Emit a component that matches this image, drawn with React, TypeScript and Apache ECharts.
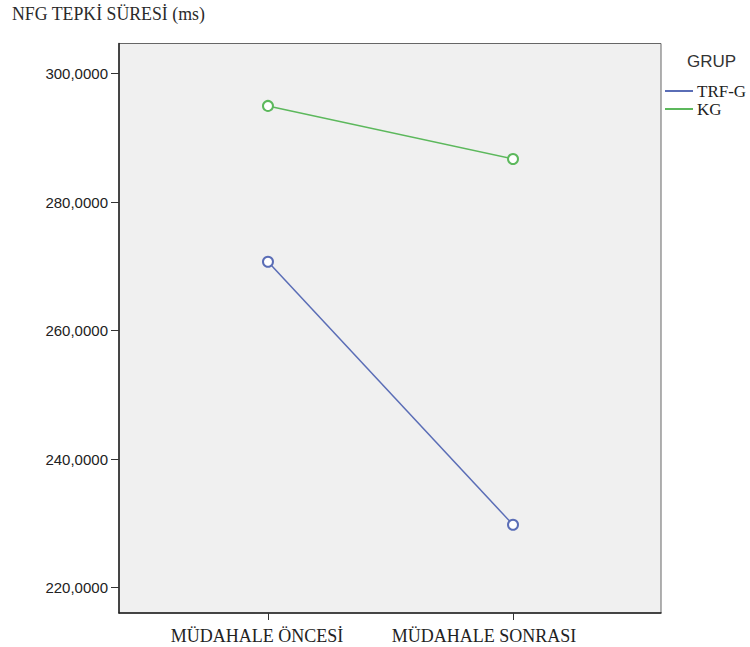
import React, { useEffect, useRef } from "react";
import * as echarts from "echarts";

const categories = ["MÜDAHALE ÖNCESİ", "MÜDAHALE SONRASI"];
const seriesNames = ["TRF-G", "KG"];
const trfG = [270.7, 229.8];
const kg = [294.95, 286.7];
const yTicks = [220, 240, 260, 280, 300];
const titleText = "NFG TEPKİ SÜRESİ (ms)";
const legendTitle = "GRUP";

export default function App() {
  const ref = useRef<HTMLDivElement>(null);
  useEffect(() => {
    const chart = echarts.init(ref.current!, null, { renderer: "svg" });
    const serif = "'Liberation Serif', 'Times New Roman', serif";
    const sans = "'Liberation Sans', Arial, sans-serif";
    const colors = ["#5a6db6", "#5cb85c"];
    const toData = (vals: number[]) => categories.map((_, i) => [i, vals[i]]);
    chart.setOption({
      animation: false,
      backgroundColor: "#ffffff",
      title: [
        {
          text: titleText,
          left: 12,
          top: 5,
          padding: 0,
          textStyle: { fontFamily: serif, fontSize: 17.8, fontWeight: "normal", color: "#2a2a2a" },
        },
        {
          text: legendTitle,
          left: 687,
          top: 53,
          padding: 0,
          textStyle: { fontFamily: sans, fontSize: 17, fontWeight: "normal", color: "#333" },
        },
      ],
      legend: {
        orient: "vertical",
        left: 665,
        top: 82,
        padding: 0,
        itemWidth: 28,
        itemHeight: 2,
        itemGap: 0,
        icon: "rect",
        data: seriesNames,
        textStyle: { fontFamily: serif, fontSize: 17, color: "#222", lineHeight: 18, padding: [0, 0, 0, -1] },
      },
      grid: {
        left: 119,
        right: 89,
        top: 43.5,
        bottom: 34,
        show: true,
        backgroundColor: "#f0f0f0",
        borderColor: "#666",
        borderWidth: 1,
      },
      xAxis: {
        type: "value",
        min: -0.608,
        max: 1.604,
        splitLine: { show: false },
        axisLine: { show: true, onZero: false, lineStyle: { color: "#222", width: 1.5 } },
        axisTick: { show: true, length: 7, customValues: [0, 1], lineStyle: { color: "#333" } },
        axisLabel: {
          customValues: [0, 1],
          margin: 14,
          formatter: (v: number) => {
            const i = Math.round(v);
            return i === 0 ? `{a|${categories[0]}}` : `{b|${categories[1]}}`;
          },
          rich: {
            a: { fontFamily: serif, fontSize: 18, color: "#222", padding: [0, 22, 0, 0] },
            b: { fontFamily: serif, fontSize: 18, color: "#222", padding: [0, 58, 0, 0] },
          },
        },
      },
      yAxis: {
        type: "value",
        min: 216.07,
        max: 304.66,
        splitLine: { show: false },
        axisLine: { show: true, onZero: false, lineStyle: { color: "#222", width: 1.5 } },
        axisTick: { show: true, length: 8, customValues: yTicks, lineStyle: { color: "#333" } },
        axisLabel: {
          customValues: yTicks,
          margin: 11,
          fontFamily: sans,
          fontSize: 15,
          color: "#222",
          formatter: (v: number) => v.toFixed(4).replace(".", ","),
        },
      },
      series: [
        {
          name: seriesNames[0],
          type: "line",
          data: toData(trfG),
          color: colors[0],
          symbol: "emptyCircle",
          symbolSize: 10,
          lineStyle: { width: 1.5, color: colors[0] },
          itemStyle: { color: colors[0], borderWidth: 1.5 },
        },
        {
          name: seriesNames[1],
          type: "line",
          data: toData(kg),
          color: colors[1],
          symbol: "emptyCircle",
          symbolSize: 10,
          lineStyle: { width: 1.5, color: colors[1] },
          itemStyle: { color: colors[1], borderWidth: 1.5 },
        },
      ],
    });
    return () => chart.dispose();
  }, []);
  return <div ref={ref} style={{ width: 750, height: 647, position: "absolute", left: 0, top: 0 }} />;
}
